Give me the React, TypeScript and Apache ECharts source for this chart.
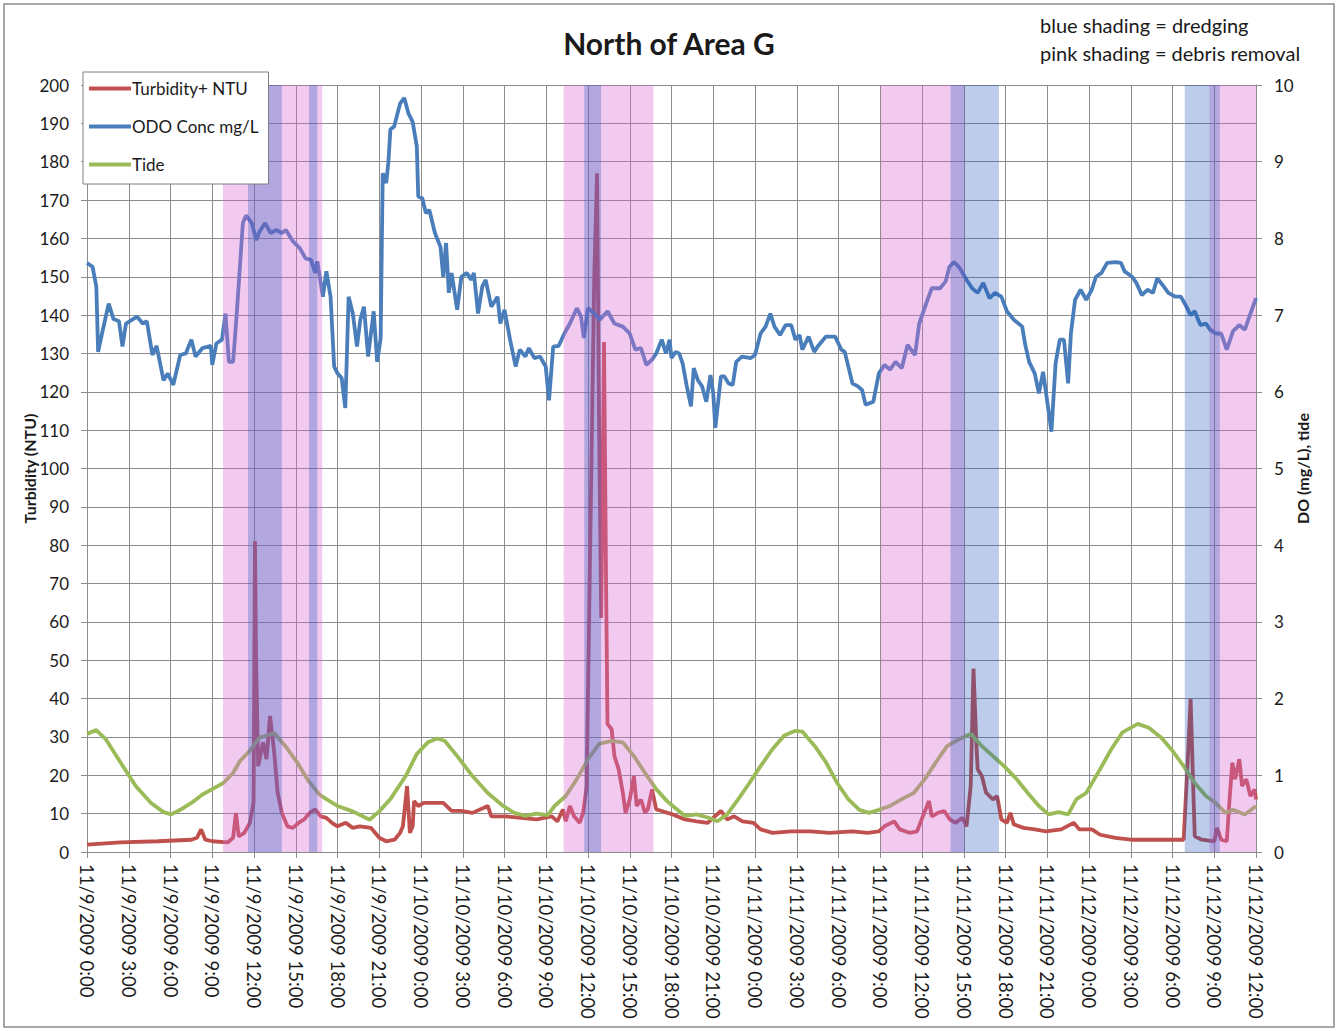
import React, { useEffect, useRef } from "react";
import * as echarts from "echarts";

// ---------- tick labels ----------
const xTickLabels = [
  "11/9/2009 0:00", "11/9/2009 3:00", "11/9/2009 6:00", "11/9/2009 9:00",
  "11/9/2009 12:00", "11/9/2009 15:00", "11/9/2009 18:00", "11/9/2009 21:00",
  "11/10/2009 0:00", "11/10/2009 3:00", "11/10/2009 6:00", "11/10/2009 9:00",
  "11/10/2009 12:00", "11/10/2009 15:00", "11/10/2009 18:00", "11/10/2009 21:00",
  "11/11/2009 0:00", "11/11/2009 3:00", "11/11/2009 6:00", "11/11/2009 9:00",
  "11/11/2009 12:00", "11/11/2009 15:00", "11/11/2009 18:00", "11/11/2009 21:00",
  "11/12/2009 0:00", "11/12/2009 3:00", "11/12/2009 6:00", "11/12/2009 9:00",
  "11/12/2009 12:00",
];

// ---------- shading periods (hours since 11/9/2009 0:00) ----------
const debrisPeriods = [
  [9.77, 16.9], [34.25, 40.7], [57.05, 63.07], [80.66, 84],
];
const dredgingPeriods = [
  [11.57, 14.0], [15.95, 16.55], [35.73, 36.94], [62.05, 65.53], [78.88, 81.4],
];

// ---------- Turbidity+ NTU ----------
const turbHours = [
  0, 2.4, 5.1, 7.5, 7.9, 8.2, 8.5, 9.0, 10.1, 10.5, 10.7, 10.9, 11.3, 11.7, 11.97, 12.07, 12.15, 12.3, 12.65, 12.9,
  13.15, 13.45, 13.7, 14.0, 14.4, 14.8, 15.2, 15.6, 16.0, 16.4, 16.8, 17.2, 17.6, 18.0, 18.6, 19.1, 19.6, 20.4, 21.0, 21.5,
  22.1, 22.5, 22.7, 23.0, 23.2, 23.4, 23.5, 23.8, 24.2, 24.75, 25.6, 26.2, 26.9, 27.7, 28.8, 29.05, 30.1, 31.2, 32.3, 33.4,
  33.8, 34.2, 34.4, 34.7, 35.0, 35.4, 35.65, 35.9, 36.2, 36.45, 36.65, 36.8, 36.95, 37.05, 37.15, 37.3, 37.4, 37.7, 37.9, 38.2,
  38.5, 38.7, 39.0, 39.3, 39.5, 39.8, 40.1, 40.3, 40.6, 40.9, 41.3, 41.7, 42.1, 42.96, 43.8, 44.6, 45.55, 46.0, 46.5, 47.1,
  47.9, 48.4, 49.25, 50.6, 52.0, 53.35, 55.0, 56.1, 56.9, 57.3, 58.0, 58.4, 59.1, 59.65, 60.06, 60.5, 60.7, 61.15, 61.6, 62.0,
  62.4, 62.9, 63.2, 63.5, 63.7, 63.9, 64.0, 64.3, 64.6, 64.85, 65.1, 65.4, 65.7, 66.1, 66.35, 66.6, 67.3, 68.1, 68.9, 70.0,
  70.9, 71.3, 72.2, 72.8, 73.9, 75.0, 76.6, 78.0, 78.8, 79.1, 79.3, 79.5, 79.6, 80.1, 81.0, 81.2, 81.5, 81.9, 82.1, 82.3,
  82.5, 82.8, 83.0, 83.3, 83.6, 83.9, 84.0,
];
const turbValues = [
  1.9, 2.5, 2.8, 3.2, 3.7, 5.9, 3.2, 2.8, 2.5, 3.7, 10.2, 4.1, 5.0, 7.6, 12.8, 81.0, 50.0, 22.4, 28.6, 24.2,
  35.5, 26.0, 15.5, 10.2, 6.7, 6.3, 7.6, 8.5, 10.2, 11.1, 9.3, 8.9, 7.6, 6.7, 7.6, 6.3, 6.7, 6.3, 3.7, 2.8,
  3.2, 5.0, 6.7, 17.2, 5.0, 6.7, 13.3, 12.0, 12.8, 12.8, 12.8, 10.7, 10.7, 10.2, 12.0, 9.3, 9.3, 8.9, 8.5, 9.3,
  8.0, 11.1, 8.0, 12.0, 9.3, 7.6, 10.2, 17.0, 90.0, 150.0, 177.0, 110.0, 61.0, 95.0, 133.0, 70.0, 33.4, 32.0, 25.0, 21.6,
  15.5, 10.2, 13.7, 19.8, 12.0, 13.7, 10.2, 11.1, 16.3, 11.1, 10.7, 10.2, 9.8, 8.5, 8.0, 7.6, 10.7, 8.5, 9.3, 8.0,
  7.6, 5.9, 5.0, 5.4, 5.4, 5.0, 5.4, 5.0, 5.4, 6.7, 8.0, 5.9, 5.0, 5.4, 9.3, 13.3, 9.3, 10.2, 10.7, 8.5,
  7.6, 8.9, 6.7, 17.2, 47.8, 28.6, 21.6, 19.8, 15.5, 14.6, 13.7, 14.6, 8.5, 7.6, 10.2, 7.2, 6.3, 5.9, 5.4, 5.9,
  7.6, 5.9, 5.9, 4.5, 3.7, 3.2, 3.2, 3.2, 3.2, 24.2, 39.9, 15.5, 4.1, 3.2, 2.8, 6.3, 3.2, 2.8, 13.7, 23.3,
  19.0, 24.2, 17.2, 19.0, 14.6, 16.3, 13.7,
];

// ---------- ODO Conc mg/L ----------
const odoHours = [
  0, 0.4, 0.67, 0.8, 1.08, 1.56, 1.9, 2.3, 2.55, 2.8, 3.6, 4.0, 4.3, 4.7, 5.0, 5.5, 5.8, 6.2, 6.7, 7.1,
  7.5, 7.8, 8.3, 8.9, 9.0, 9.3, 9.7, 9.95, 10.2, 10.5, 10.76, 11.2, 11.43, 11.84, 12.16, 12.4, 12.8, 13.2, 13.6, 14.0,
  14.3, 14.8, 15.3, 15.7, 16.1, 16.4, 16.55, 16.95, 17.2, 17.5, 17.76, 18.0, 18.3, 18.56, 18.8, 19.1, 19.4, 19.64, 19.9, 20.2,
  20.6, 20.85, 21.1, 21.25, 21.5, 21.66, 21.8, 22.07, 22.5, 22.8, 23.1, 23.4, 23.7, 23.8, 24.1, 24.35, 24.6, 25.0, 25.4, 25.6,
  25.8, 26.0, 26.2, 26.6, 26.9, 27.3, 27.6, 27.8, 28.1, 28.4, 28.65, 29.05, 29.5, 29.7, 30.0, 30.4, 30.8, 31.1, 31.5, 31.75,
  32.15, 32.55, 32.96, 33.2, 33.5, 33.9, 34.3, 34.7, 35.2, 35.5, 35.7, 36.0, 36.45, 36.85, 37.4, 37.9, 38.5, 39.0, 39.4, 39.8,
  40.2, 40.6, 40.9, 41.3, 41.6, 41.86, 42.0, 42.3, 42.55, 42.8, 43.1, 43.4, 43.6, 43.9, 44.2, 44.5, 44.8, 45.0, 45.15, 45.55,
  45.8, 46.1, 46.4, 46.65, 47.06, 47.7, 48.0, 48.4, 48.76, 49.1, 49.4, 49.8, 50.2, 50.6, 50.9, 51.2, 51.4, 51.85, 52.26, 52.5,
  53.1, 53.76, 54.2, 54.45, 55.0, 55.4, 55.7, 55.95, 56.5, 56.9, 57.3, 57.7, 58.1, 58.55, 58.96, 59.5, 59.8, 60.3, 60.7, 61.3,
  61.7, 61.97, 62.3, 62.65, 63.2, 63.6, 64.0, 64.4, 64.85, 65.25, 65.7, 66.1, 66.6, 67.2, 67.4, 67.7, 68.1, 68.4, 68.7, 68.95,
  69.3, 69.6, 69.9, 70.2, 70.5, 70.7, 71.0, 71.4, 71.8, 72.2, 72.5, 72.9, 73.3, 73.9, 74.3, 74.56, 75.1, 75.4, 75.8, 76.2,
  76.6, 76.9, 77.3, 77.7, 78.2, 78.6, 79.0, 79.3, 79.6, 80.0, 80.4, 80.7, 81.1, 81.5, 81.9, 82.35, 82.8, 83.2, 83.6, 84.0,
];
const odoValues = [
  7.68, 7.63, 7.37, 6.52, 6.76, 7.15, 6.95, 6.92, 6.59, 6.89, 6.98, 6.89, 6.92, 6.48, 6.6, 6.15, 6.24, 6.09, 6.48, 6.5,
  6.68, 6.46, 6.57, 6.6, 6.35, 6.63, 6.68, 7.02, 6.39, 6.39, 7.02, 8.2, 8.3, 8.2, 7.98, 8.09, 8.2, 8.07, 8.11, 8.07,
  8.11, 7.96, 7.87, 7.74, 7.72, 7.55, 7.7, 7.24, 7.57, 7.24, 6.33, 6.24, 6.18, 5.79, 7.24, 7.02, 6.59, 6.94, 7.11, 6.46,
  7.05, 6.39, 6.7, 8.85, 8.72, 9.0, 9.42, 9.46, 9.76, 9.83, 9.63, 9.52, 9.2, 8.55, 8.52, 8.33, 8.37, 8.07, 7.89, 7.5,
  7.94, 7.29, 7.55, 7.07, 7.5, 7.55, 7.46, 7.55, 7.02, 7.37, 7.46, 7.11, 7.24, 6.89, 7.07, 6.68, 6.33, 6.55, 6.46, 6.57,
  6.44, 6.46, 6.33, 5.89, 6.59, 6.6, 6.76, 6.89, 7.09, 6.98, 6.7, 7.09, 7.02, 6.94, 7.05, 6.89, 6.85, 6.76, 6.55, 6.57,
  6.35, 6.42, 6.5, 6.68, 6.5, 6.68, 6.44, 6.52, 6.5, 6.37, 6.07, 5.81, 6.31, 6.15, 6.07, 5.87, 6.22, 5.98, 5.53, 6.2,
  6.2, 6.11, 6.09, 6.39, 6.46, 6.44, 6.48, 6.76, 6.85, 7.02, 6.85, 6.74, 6.87, 6.87, 6.68, 6.74, 6.55, 6.72, 6.52, 6.59,
  6.72, 6.72, 6.55, 6.52, 6.11, 6.07, 6.02, 5.83, 5.87, 6.24, 6.35, 6.29, 6.39, 6.31, 6.61, 6.48, 6.89, 7.15, 7.35, 7.35,
  7.44, 7.63, 7.69, 7.63, 7.46, 7.35, 7.29, 7.42, 7.22, 7.29, 7.24, 7.05, 6.94, 6.85, 6.63, 6.39, 6.24, 5.98, 6.26, 5.94,
  5.48, 6.37, 6.68, 6.68, 6.11, 6.76, 7.2, 7.33, 7.2, 7.33, 7.5, 7.55, 7.68, 7.69, 7.68, 7.57, 7.5, 7.42, 7.26, 7.33,
  7.29, 7.48, 7.39, 7.29, 7.24, 7.24, 7.11, 7.0, 7.05, 6.87, 6.89, 6.81, 6.76, 6.76, 6.55, 6.79, 6.87, 6.81, 7.02, 7.22,
];

// ---------- Tide ----------
const tideHours = [
  0, 0.67, 1.35, 2.4, 3.5, 4.6, 5.5, 6.05, 6.7, 7.5, 8.3, 9.0, 9.8, 10.5, 11.0, 11.6, 12.4, 13.45, 14.26, 15.1,
  15.9, 16.7, 17.2, 18.0, 19.1, 20.3, 21.0, 21.8, 22.9, 23.7, 24.5, 25.15, 25.7, 26.6, 27.7, 28.8, 29.9, 30.7, 31.5, 32.3,
  33.1, 33.6, 34.4, 35.2, 36.0, 36.8, 37.7, 38.5, 39.3, 40.1, 40.9, 41.7, 42.1, 42.96, 43.8, 44.6, 45.3, 46.0, 46.8, 47.6,
  48.4, 49.25, 50.1, 50.9, 51.4, 52.3, 53.1, 53.9, 54.7, 55.5, 56.2, 56.9, 57.7, 58.55, 59.4, 60.2, 61.0, 61.8, 62.65, 63.5,
  64.3, 65.1, 65.9, 66.8, 67.6, 68.4, 69.1, 69.8, 70.5, 71.1, 71.8, 72.8, 73.6, 74.4, 75.5, 76.3, 77.2, 78.0, 78.8, 79.6,
  80.4, 81.1, 81.8, 82.35, 83.2, 84.0,
];
const tideValues = [
  1.54, 1.59, 1.47, 1.17, 0.86, 0.64, 0.52, 0.49, 0.55, 0.64, 0.75, 0.82, 0.9, 1.03, 1.19, 1.3, 1.49, 1.55, 1.38, 1.17,
  0.93, 0.75, 0.69, 0.6, 0.53, 0.42, 0.53, 0.69, 0.99, 1.28, 1.43, 1.48, 1.45, 1.25, 0.99, 0.77, 0.6, 0.51, 0.47, 0.5,
  0.48, 0.6, 0.73, 0.95, 1.21, 1.41, 1.45, 1.43, 1.25, 1.03, 0.82, 0.66, 0.6, 0.47, 0.49, 0.45, 0.4, 0.49, 0.69, 0.9,
  1.12, 1.34, 1.52, 1.58, 1.57, 1.38, 1.17, 0.9, 0.69, 0.55, 0.51, 0.55, 0.6, 0.69, 0.77, 0.95, 1.17, 1.38, 1.47, 1.54,
  1.38, 1.25, 1.12, 0.95, 0.77, 0.6, 0.49, 0.52, 0.49, 0.69, 0.77, 1.08, 1.34, 1.56, 1.67, 1.62, 1.49, 1.32, 1.12, 0.9,
  0.73, 0.64, 0.51, 0.55, 0.49, 0.6,
];

const FONT = "Lato, 'Open Sans', sans-serif";
const GRID_COLOR = "#8c8c8c";

const zip = (xs: number[], ys: number[]) => xs.map((x, i) => [x, ys[i]]);

const shadeSeries = (periods: number[][], color: string, z: number) => ({
  type: "custom",
  silent: true,
  z,
  xAxisIndex: 0,
  yAxisIndex: 0,
  data: periods,
  encode: { x: [0, 1] },
  renderItem: (_params: any, api: any) => {
    const tl = api.coord([api.value(0), 200]);
    const br = api.coord([api.value(1), 0]);
    return {
      type: "rect",
      shape: { x: tl[0], y: tl[1], width: br[0] - tl[0], height: br[1] - tl[1] },
      style: { fill: color },
    };
  },
});

export default function App() {
  const ref = useRef<HTMLDivElement>(null);

  useEffect(() => {
    if (!ref.current) return;
    const chart = echarts.init(ref.current, undefined, { renderer: "svg" });
    const option: any = {
      animation: false,
      backgroundColor: "#ffffff",
      textStyle: { fontFamily: FONT },
      title: {
        text: "North of Area G",
        left: "center",
        top: 23,
        textStyle: { fontFamily: FONT, fontSize: 30, fontWeight: "bold", color: "#1a1a1a" },
      },
      graphic: [
        {
          type: "rect",
          shape: { x: 4, y: 4, width: 1330, height: 1023 },
          style: { fill: "none", stroke: "#8c8c8c", lineWidth: 1.5 },
          silent: true,
        },
        {
          type: "text",
          left: 1040,
          top: 15,
          style: { text: "blue shading = dredging", fontFamily: FONT, fontSize: 20, fill: "#1a1a1a" },
        },
        {
          type: "text",
          left: 1040,
          top: 43,
          style: { text: "pink shading = debris removal", fontFamily: FONT, fontSize: 20, fill: "#1a1a1a" },
        },
      ],
      legend: {
        show: true,
        orient: "vertical",
        left: 83,
        top: 72,
        z: 20,
        data: [
          { name: "Turbidity+ NTU", icon: "rect" },
          { name: "ODO Conc mg/L", icon: "rect" },
          { name: "Tide", icon: "rect" },
        ],
        itemWidth: 42,
        itemHeight: 4,
        itemGap: 21,
        padding: [8, 10, 11, 6],
        backgroundColor: "#ffffff",
        borderColor: "#7f7f7f",
        borderWidth: 1,
        borderRadius: 0,
        textStyle: { fontFamily: FONT, fontSize: 17, color: "#1a1a1a", padding: [0, 0, 0, -4] },
      },
      grid: { left: 87, right: 82, top: 85, bottom: 179, containLabel: false },
      xAxis: {
        type: "value",
        min: 0,
        max: 84,
        interval: 3,
        axisLine: { show: true, lineStyle: { color: GRID_COLOR, width: 1 } },
        axisTick: { show: true, length: 6, lineStyle: { color: GRID_COLOR } },
        splitLine: { show: true, lineStyle: { color: GRID_COLOR, width: 1 } },
        axisLabel: {
          rotate: -90,
          margin: 12,
          fontFamily: FONT,
          fontSize: 18.5,
          color: "#1a1a1a",
          formatter: (v: number) => xTickLabels[Math.round(v / 3)] ?? "",
        },
      },
      yAxis: [
        {
          type: "value",
          min: 0,
          max: 200,
          interval: 10,
          name: "Turbidity (NTU)",
          nameLocation: "middle",
          nameRotate: 90,
          nameGap: 50,
          nameMoveOverlap: false,
          nameTextStyle: { fontFamily: FONT, fontSize: 16, fontWeight: "bold", color: "#1a1a1a" },
          axisLine: { show: true, lineStyle: { color: GRID_COLOR, width: 1 } },
          axisTick: { show: true, length: 6, lineStyle: { color: GRID_COLOR } },
          splitLine: { show: true, lineStyle: { color: GRID_COLOR, width: 1 } },
          axisLabel: { margin: 18, fontFamily: FONT, fontSize: 17, color: "#1a1a1a" },
        },
        {
          type: "value",
          min: 0,
          max: 10,
          interval: 1,
          position: "right",
          name: "DO (mg/L), tide",
          nameLocation: "middle",
          nameRotate: 90,
          nameGap: 38,
          nameMoveOverlap: false,
          nameTextStyle: { fontFamily: FONT, fontSize: 16, fontWeight: "bold", color: "#1a1a1a" },
          axisLine: { show: true, lineStyle: { color: GRID_COLOR, width: 1 } },
          axisTick: { show: true, length: 6, lineStyle: { color: GRID_COLOR } },
          splitLine: { show: false },
          axisLabel: { margin: 18, fontFamily: FONT, fontSize: 17, color: "#1a1a1a" },
        },
      ],
      series: [
        {
          name: "Turbidity+ NTU",
          type: "line",
          yAxisIndex: 0,
          data: zip(turbHours, turbValues),
          showSymbol: false,
          symbol: "none",
          z: 2,
          color: "#C0504D",
          lineStyle: { color: "#C0504D", width: 3.8 },
        },
        {
          name: "ODO Conc mg/L",
          type: "line",
          yAxisIndex: 1,
          data: zip(odoHours, odoValues),
          showSymbol: false,
          symbol: "none",
          z: 2,
          color: "#4A7EBB",
          lineStyle: { color: "#4A7EBB", width: 3.8 },
        },
        {
          name: "Tide",
          type: "line",
          yAxisIndex: 1,
          data: zip(tideHours, tideValues),
          showSymbol: false,
          symbol: "none",
          z: 2,
          color: "#9BBB59",
          lineStyle: { color: "#9BBB59", width: 3.8 },
        },
        shadeSeries(debrisPeriods, "rgba(218,104,212,0.35)", 5),
        shadeSeries(dredgingPeriods, "rgba(32,85,185,0.30)", 6),
      ],
    };
    chart.setOption(option);
    return () => chart.dispose();
  }, []);

  return (
    <div
      ref={ref}
      style={{ position: "absolute", left: 0, top: 0, width: 1338, height: 1031 }}
    />
  );
}
